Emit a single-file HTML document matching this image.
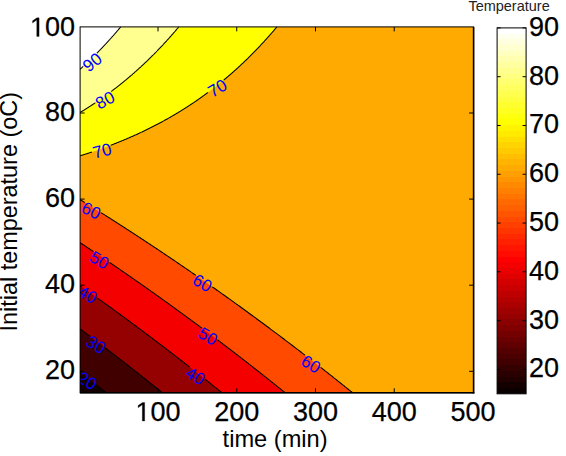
<!DOCTYPE html>
<html><head><meta charset="utf-8"><style>
html,body{margin:0;padding:0;background:#fff;}
svg{display:block;font-family:"Liberation Sans",sans-serif;}
.tk{stroke:#000;stroke-width:0.25;}
.hid{fill-opacity:0;stroke-opacity:0;}
</style></head><body>
<svg width="566" height="456" viewBox="0 0 566 456">
<rect x="80.09" y="26.90" width="392.86" height="365.92" fill="#ffaa00"/>
<polygon points="80.09,26.90 80.09,155.81 82.55,155.04 85.01,154.26 87.47,153.47 89.93,152.66 92.39,151.84 94.84,151.00 97.30,150.15 99.76,149.29 102.22,148.41 104.68,147.52 107.14,146.61 109.60,145.69 112.06,144.75 114.52,143.79 116.98,142.82 119.44,141.83 121.90,140.83 124.36,139.81 126.82,138.77 129.28,137.71 131.74,136.63 134.20,135.54 136.66,134.43 139.12,133.30 141.58,132.14 144.04,130.97 146.50,129.78 148.95,128.57 151.41,127.34 153.87,126.09 156.33,124.82 158.79,123.52 161.25,122.21 163.71,120.87 166.17,119.50 168.63,118.12 171.09,116.71 173.55,115.28 176.01,113.82 178.47,112.34 180.93,110.83 183.39,109.29 185.85,107.74 188.31,106.15 190.77,104.54 193.23,102.90 195.69,101.23 198.15,99.53 200.61,97.80 203.06,96.05 205.52,94.26 207.98,92.45 210.44,90.60 212.90,88.72 215.36,86.81 217.82,84.87 220.28,82.90 222.74,80.89 225.20,78.84 227.66,76.77 230.12,74.65 232.58,72.50 235.04,70.32 237.50,68.09 239.96,65.83 242.42,63.53 244.88,61.19 247.34,58.81 249.80,56.39 252.26,53.93 254.72,51.43 257.17,48.89 259.63,46.30 262.09,43.66 264.55,40.99 267.01,38.26 269.47,35.49 271.93,32.68 274.39,29.81 276.85,26.90" fill="#ffff00"/>
<polygon points="80.09,26.90 80.09,112.52 81.32,111.77 82.55,111.01 83.79,110.25 85.02,109.48 86.26,108.70 87.49,107.92 88.72,107.13 89.96,106.33 91.19,105.53 92.42,104.72 93.66,103.90 94.89,103.07 96.12,102.24 97.36,101.40 98.59,100.56 99.83,99.70 101.06,98.84 102.29,97.97 103.53,97.10 104.76,96.22 105.99,95.33 107.23,94.43 108.46,93.52 109.69,92.61 110.93,91.69 112.16,90.76 113.40,89.82 114.63,88.88 115.86,87.93 117.10,86.97 118.33,86.00 119.56,85.02 120.80,84.03 122.03,83.04 123.26,82.04 124.50,81.03 125.73,80.01 126.97,78.98 128.20,77.94 129.43,76.90 130.67,75.84 131.90,74.78 133.13,73.71 134.37,72.63 135.60,71.53 136.83,70.43 138.07,69.32 139.30,68.21 140.54,67.08 141.77,65.94 143.00,64.79 144.24,63.63 145.47,62.47 146.70,61.29 147.94,60.10 149.17,58.90 150.40,57.70 151.64,56.48 152.87,55.25 154.11,54.01 155.34,52.76 156.57,51.50 157.81,50.23 159.04,48.95 160.27,47.66 161.51,46.35 162.74,45.04 163.98,43.71 165.21,42.38 166.44,41.03 167.68,39.67 168.91,38.30 170.14,36.92 171.38,35.52 172.61,34.11 173.84,32.70 175.08,31.27 176.31,29.82 177.55,28.37 178.78,26.90" fill="#ffff8f"/>
<polygon points="80.09,26.90 80.09,69.24 80.60,68.78 81.10,68.32 81.61,67.86 82.12,67.39 82.63,66.93 83.13,66.46 83.64,65.99 84.15,65.52 84.66,65.05 85.16,64.57 85.67,64.09 86.18,63.62 86.69,63.14 87.20,62.66 87.70,62.17 88.21,61.69 88.72,61.20 89.23,60.72 89.73,60.23 90.24,59.74 90.75,59.24 91.26,58.75 91.76,58.25 92.27,57.75 92.78,57.25 93.29,56.75 93.80,56.25 94.30,55.74 94.81,55.24 95.32,54.73 95.83,54.22 96.33,53.71 96.84,53.19 97.35,52.68 97.86,52.16 98.36,51.64 98.87,51.12 99.38,50.60 99.89,50.07 100.40,49.54 100.90,49.02 101.41,48.49 101.92,47.95 102.43,47.42 102.93,46.88 103.44,46.35 103.95,45.81 104.46,45.26 104.97,44.72 105.47,44.18 105.98,43.63 106.49,43.08 107.00,42.53 107.50,41.98 108.01,41.42 108.52,40.86 109.03,40.30 109.53,39.74 110.04,39.18 110.55,38.62 111.06,38.05 111.57,37.48 112.07,36.91 112.58,36.34 113.09,35.76 113.60,35.19 114.10,34.61 114.61,34.03 115.12,33.45 115.63,32.86 116.13,32.27 116.64,31.68 117.15,31.09 117.66,30.50 118.17,29.91 118.67,29.31 119.18,28.71 119.69,28.11 120.20,27.51 120.70,26.90" fill="#ffffff"/>
<polygon points="80.09,199.59 83.49,201.69 86.90,203.81 90.31,205.93 93.72,208.06 97.12,210.20 100.53,212.35 103.94,214.50 107.35,216.66 110.75,218.82 114.16,221.00 117.57,223.18 120.98,225.36 124.38,227.56 127.79,229.76 131.20,231.97 134.61,234.19 138.01,236.42 141.42,238.65 144.83,240.89 148.23,243.14 151.64,245.39 155.05,247.66 158.46,249.93 161.86,252.20 165.27,254.49 168.68,256.78 172.09,259.08 175.49,261.39 178.90,263.71 182.31,266.04 185.72,268.37 189.12,270.71 192.53,273.06 195.94,275.41 199.35,277.78 202.75,280.15 206.16,282.53 209.57,284.92 212.98,287.31 216.38,289.72 219.79,292.13 223.20,294.55 226.60,296.98 230.01,299.42 233.42,301.86 236.83,304.31 240.23,306.77 243.64,309.24 247.05,311.72 250.46,314.21 253.86,316.70 257.27,319.21 260.68,321.72 264.09,324.24 267.49,326.77 270.90,329.30 274.31,331.85 277.72,334.40 281.12,336.97 284.53,339.54 287.94,342.12 291.34,344.71 294.75,347.30 298.16,349.91 301.57,352.53 304.97,355.15 308.38,357.78 311.79,360.42 315.20,363.07 318.60,365.73 322.01,368.40 325.42,371.08 328.83,373.77 332.23,376.46 335.64,379.17 339.05,381.88 342.46,384.60 345.86,387.33 349.27,390.07 352.68,392.82 80.09,392.82" fill="#ff4a00"/>
<polygon points="80.09,242.67 82.65,244.37 85.22,246.06 87.78,247.77 90.34,249.48 92.91,251.19 95.47,252.91 98.04,254.63 100.60,256.35 103.17,258.08 105.73,259.82 108.30,261.56 110.86,263.30 113.42,265.05 115.99,266.80 118.55,268.56 121.12,270.32 123.68,272.08 126.25,273.85 128.81,275.63 131.37,277.41 133.94,279.19 136.50,280.98 139.07,282.77 141.63,284.57 144.20,286.37 146.76,288.18 149.33,289.99 151.89,291.80 154.45,293.62 157.02,295.45 159.58,297.28 162.15,299.11 164.71,300.95 167.28,302.79 169.84,304.64 172.40,306.49 174.97,308.35 177.53,310.21 180.10,312.08 182.66,313.95 185.23,315.83 187.79,317.71 190.36,319.59 192.92,321.48 195.48,323.38 198.05,325.28 200.61,327.18 203.18,329.09 205.74,331.01 208.31,332.93 210.87,334.85 213.43,336.78 216.00,338.71 218.56,340.65 221.13,342.60 223.69,344.55 226.26,346.50 228.82,348.46 231.39,350.42 233.95,352.39 236.51,354.36 239.08,356.34 241.64,358.33 244.21,360.31 246.77,362.31 249.34,364.31 251.90,366.31 254.46,368.32 257.03,370.33 259.59,372.35 262.16,374.38 264.72,376.40 267.29,378.44 269.85,380.48 272.42,382.52 274.98,384.57 277.54,386.63 280.11,388.69 282.67,390.75 285.24,392.82 80.09,392.82" fill="#f40000"/>
<polygon points="80.09,285.75 81.86,287.00 83.64,288.25 85.41,289.50 87.18,290.76 88.96,292.01 90.73,293.27 92.51,294.53 94.28,295.80 96.05,297.06 97.83,298.33 99.60,299.60 101.38,300.87 103.15,302.15 104.92,303.42 106.70,304.70 108.47,305.98 110.25,307.27 112.02,308.55 113.79,309.84 115.57,311.13 117.34,312.42 119.12,313.72 120.89,315.02 122.66,316.32 124.44,317.62 126.21,318.92 127.99,320.23 129.76,321.53 131.53,322.85 133.31,324.16 135.08,325.47 136.86,326.79 138.63,328.11 140.40,329.43 142.18,330.76 143.95,332.08 145.73,333.41 147.50,334.75 149.27,336.08 151.05,337.42 152.82,338.75 154.60,340.09 156.37,341.44 158.14,342.78 159.92,344.13 161.69,345.48 163.46,346.83 165.24,348.19 167.01,349.55 168.79,350.91 170.56,352.27 172.33,353.63 174.11,355.00 175.88,356.37 177.66,357.74 179.43,359.11 181.20,360.49 182.98,361.87 184.75,363.25 186.53,364.64 188.30,366.02 190.07,367.41 191.85,368.80 193.62,370.19 195.40,371.59 197.17,372.99 198.94,374.39 200.72,375.79 202.49,377.20 204.27,378.61 206.04,380.02 207.81,381.43 209.59,382.85 211.36,384.26 213.14,385.68 214.91,387.11 216.68,388.53 218.46,389.96 220.23,391.39 222.01,392.82 80.09,392.82" fill="#950000"/>
<polygon points="80.09,328.84 81.12,329.60 82.15,330.37 83.18,331.14 84.21,331.91 85.24,332.69 86.27,333.46 87.30,334.23 88.33,335.00 89.36,335.78 90.39,336.55 91.42,337.33 92.45,338.11 93.48,338.88 94.51,339.66 95.54,340.44 96.57,341.22 97.60,342.00 98.63,342.78 99.66,343.57 100.69,344.35 101.72,345.13 102.75,345.92 103.78,346.70 104.81,347.49 105.84,348.28 106.87,349.06 107.90,349.85 108.93,350.64 109.96,351.43 110.99,352.22 112.02,353.02 113.05,353.81 114.08,354.60 115.11,355.40 116.14,356.19 117.17,356.99 118.20,357.79 119.23,358.58 120.26,359.38 121.29,360.18 122.32,360.98 123.35,361.78 124.38,362.58 125.41,363.39 126.44,364.19 127.47,364.99 128.50,365.80 129.53,366.60 130.56,367.41 131.59,368.22 132.62,369.03 133.65,369.83 134.68,370.64 135.71,371.46 136.74,372.27 137.77,373.08 138.80,373.89 139.83,374.71 140.86,375.52 141.89,376.34 142.92,377.15 143.95,377.97 144.98,378.79 146.01,379.61 147.04,380.43 148.07,381.25 149.10,382.07 150.13,382.89 151.16,383.72 152.19,384.54 153.22,385.36 154.25,386.19 155.28,387.02 156.31,387.84 157.34,388.67 158.37,389.50 159.40,390.33 160.43,391.16 161.46,391.99 162.49,392.82 80.09,392.82" fill="#400000"/>
<polygon points="80.09,371.92 80.41,372.18 80.74,372.44 81.07,372.69 81.40,372.95 81.72,373.21 82.05,373.47 82.38,373.73 82.71,373.99 83.03,374.24 83.36,374.50 83.69,374.76 84.02,375.02 84.34,375.28 84.67,375.54 85.00,375.80 85.33,376.06 85.65,376.32 85.98,376.58 86.31,376.84 86.64,377.10 86.96,377.36 87.29,377.62 87.62,377.87 87.94,378.13 88.27,378.39 88.60,378.65 88.93,378.92 89.25,379.18 89.58,379.44 89.91,379.70 90.24,379.96 90.56,380.22 90.89,380.48 91.22,380.74 91.55,381.00 91.87,381.26 92.20,381.52 92.53,381.78 92.86,382.04 93.18,382.30 93.51,382.57 93.84,382.83 94.17,383.09 94.49,383.35 94.82,383.61 95.15,383.87 95.47,384.14 95.80,384.40 96.13,384.66 96.46,384.92 96.78,385.18 97.11,385.45 97.44,385.71 97.77,385.97 98.09,386.23 98.42,386.50 98.75,386.76 99.08,387.02 99.40,387.29 99.73,387.55 100.06,387.81 100.39,388.07 100.71,388.34 101.04,388.60 101.37,388.86 101.70,389.13 102.02,389.39 102.35,389.65 102.68,389.92 103.00,390.18 103.33,390.45 103.66,390.71 103.99,390.97 104.31,391.24 104.64,391.50 104.97,391.77 105.30,392.03 105.62,392.30 105.95,392.56 106.28,392.82 80.09,392.82" fill="#150000"/>
<polyline points="80.09,155.81 80.58,155.65 81.07,155.50 81.56,155.35 82.05,155.19 82.55,155.04 83.04,154.89 83.53,154.73 84.02,154.57 84.51,154.42 85.01,154.26 85.50,154.10 85.99,153.94 86.48,153.79 86.97,153.63 87.47,153.47 87.96,153.31 88.45,153.15 88.94,152.98 89.43,152.82 89.93,152.66 90.42,152.50 90.91,152.33 91.40,152.17 91.89,152.00" fill="none" stroke="#000" stroke-width="1.05"/><polyline points="110.59,145.31 111.08,145.13 111.57,144.94 112.06,144.75 112.55,144.56 113.05,144.37 113.54,144.18 114.03,143.99 114.52,143.79 115.01,143.60 115.50,143.41 116.00,143.21 116.49,143.02 116.98,142.82 117.47,142.63 117.96,142.43 118.46,142.23 118.95,142.03 119.44,141.83 119.93,141.63 120.42,141.43 120.92,141.23 121.41,141.03 121.90,140.83 122.39,140.62 122.88,140.42 123.38,140.22 123.87,140.01 124.36,139.81 124.85,139.60 125.34,139.39 125.83,139.18 126.33,138.98 126.82,138.77 127.31,138.56 127.80,138.35 128.29,138.13 128.79,137.92 129.28,137.71 129.77,137.49 130.26,137.28 130.75,137.07 131.25,136.85 131.74,136.63 132.23,136.42 132.72,136.20 133.21,135.98 133.71,135.76 134.20,135.54 134.69,135.32 135.18,135.10 135.67,134.87 136.17,134.65 136.66,134.43 137.15,134.20 137.64,133.98 138.13,133.75 138.62,133.52 139.12,133.30 139.61,133.07 140.10,132.84 140.59,132.61 141.08,132.38 141.58,132.14 142.07,131.91 142.56,131.68 143.05,131.45 143.54,131.21 144.04,130.97 144.53,130.74 145.02,130.50 145.51,130.26 146.00,130.02 146.50,129.78 146.99,129.54 147.48,129.30 147.97,129.06 148.46,128.82 148.95,128.57 149.45,128.33 149.94,128.08 150.43,127.84 150.92,127.59 151.41,127.34 151.91,127.09 152.40,126.84 152.89,126.59 153.38,126.34 153.87,126.09 154.37,125.84 154.86,125.58 155.35,125.33 155.84,125.07 156.33,124.82 156.83,124.56 157.32,124.30 157.81,124.04 158.30,123.78 158.79,123.52 159.28,123.26 159.78,123.00 160.27,122.74 160.76,122.47 161.25,122.21 161.74,121.94 162.24,121.67 162.73,121.40 163.22,121.14 163.71,120.87 164.20,120.60 164.70,120.32 165.19,120.05 165.68,119.78 166.17,119.50 166.66,119.23 167.16,118.95 167.65,118.68 168.14,118.40 168.63,118.12 169.12,117.84 169.61,117.56 170.11,117.28 170.60,116.99 171.09,116.71 171.58,116.42 172.07,116.14 172.57,115.85 173.06,115.56 173.55,115.28 174.04,114.99 174.53,114.70 175.03,114.40 175.52,114.11 176.01,113.82 176.50,113.52 176.99,113.23 177.49,112.93 177.98,112.63 178.47,112.34 178.96,112.04 179.45,111.74 179.95,111.43 180.44,111.13 180.93,110.83 181.42,110.52 181.91,110.22 182.40,109.91 182.90,109.60 183.39,109.29 183.88,108.99 184.37,108.67 184.86,108.36 185.36,108.05 185.85,107.74 186.34,107.42 186.83,107.10 187.32,106.79 187.82,106.47 188.31,106.15 188.80,105.83 189.29,105.51 189.78,105.18 190.28,104.86 190.77,104.54 191.26,104.21 191.75,103.88 192.24,103.56 192.73,103.23 193.23,102.90 193.72,102.56 194.21,102.23 194.70,101.90 195.19,101.56 195.69,101.23 196.18,100.89 196.67,100.55 197.16,100.21 197.65,99.87 198.15,99.53 198.64,99.19 199.13,98.84 199.62,98.50 200.11,98.15 200.61,97.80 201.10,97.46 201.59,97.11 202.08,96.76 202.57,96.40 203.06,96.05 203.56,95.69 204.05,95.34 204.54,94.98 205.03,94.62 205.52,94.26 206.02,93.90 206.51,93.54 207.00,93.18 207.49,92.81 207.98,92.45" fill="none" stroke="#000" stroke-width="1.05"/><polyline points="223.73,80.07 224.22,79.67 224.71,79.26 225.20,78.84 225.69,78.43 226.18,78.02 226.68,77.60 227.17,77.18 227.66,76.77 228.15,76.35 228.64,75.92 229.14,75.50 229.63,75.08 230.12,74.65 230.61,74.23 231.10,73.80 231.60,73.37 232.09,72.94 232.58,72.50 233.07,72.07 233.56,71.63 234.06,71.20 234.55,70.76 235.04,70.32 235.53,69.87 236.02,69.43 236.51,68.99 237.01,68.54 237.50,68.09 237.99,67.64 238.48,67.19 238.97,66.74 239.47,66.29 239.96,65.83 240.45,65.37 240.94,64.92 241.43,64.46 241.93,63.99 242.42,63.53 242.91,63.07 243.40,62.60 243.89,62.13 244.39,61.66 244.88,61.19 245.37,60.72 245.86,60.25 246.35,59.77 246.84,59.29 247.34,58.81 247.83,58.33 248.32,57.85 248.81,57.37 249.30,56.88 249.80,56.39 250.29,55.91 250.78,55.42 251.27,54.92 251.76,54.43 252.26,53.93 252.75,53.44 253.24,52.94 253.73,52.44 254.22,51.94 254.72,51.43 255.21,50.93 255.70,50.42 256.19,49.91 256.68,49.40 257.17,48.89 257.67,48.37 258.16,47.86 258.65,47.34 259.14,46.82 259.63,46.30 260.13,45.77 260.62,45.25 261.11,44.72 261.60,44.19 262.09,43.66 262.59,43.13 263.08,42.60 263.57,42.06 264.06,41.53 264.55,40.99 265.05,40.45 265.54,39.90 266.03,39.36 266.52,38.81 267.01,38.26 267.51,37.71 268.00,37.16 268.49,36.61 268.98,36.05 269.47,35.49 269.96,34.94 270.46,34.37 270.95,33.81 271.44,33.25 271.93,32.68 272.42,32.11 272.92,31.54 273.41,30.97 273.90,30.39 274.39,29.81 274.88,29.23 275.38,28.65 275.87,28.07 276.36,27.49 276.85,26.90" fill="none" stroke="#000" stroke-width="1.05"/>
<polyline points="80.09,112.52 80.33,112.37 80.58,112.22 80.83,112.07 81.07,111.92 81.32,111.77 81.57,111.62 81.81,111.47 82.06,111.32 82.31,111.17 82.55,111.01 82.80,110.86 83.05,110.71 83.29,110.56 83.54,110.40 83.79,110.25 84.03,110.10 84.28,109.94 84.53,109.79 84.78,109.63 85.02,109.48 85.27,109.32 85.52,109.17 85.76,109.01 86.01,108.86 86.26,108.70 86.50,108.55 86.75,108.39 87.00,108.23 87.24,108.08 87.49,107.92 87.74,107.76 87.98,107.60 88.23,107.44 88.48,107.29 88.72,107.13 88.97,106.97 89.22,106.81 89.46,106.65 89.71,106.49 89.96,106.33 90.20,106.17 90.45,106.01 90.70,105.85 90.94,105.69 91.19,105.53 91.44,105.36 91.68,105.20 91.93,105.04 92.18,104.88 92.42,104.72 92.67,104.55 92.92,104.39 93.16,104.23 93.41,104.06 93.66,103.90 93.90,103.73 94.15,103.57 94.40,103.40 94.64,103.24 94.89,103.07 95.14,102.91 95.38,102.74" fill="none" stroke="#000" stroke-width="1.05"/><polyline points="111.18,91.50 111.42,91.32 111.67,91.13 111.92,90.95 112.16,90.76 112.41,90.57 112.66,90.39 112.90,90.20 113.15,90.01 113.40,89.82 113.64,89.64 113.89,89.45 114.14,89.26 114.38,89.07 114.63,88.88 114.88,88.69 115.12,88.50 115.37,88.31 115.62,88.12 115.86,87.93 116.11,87.74 116.36,87.54 116.60,87.35 116.85,87.16 117.10,86.97 117.34,86.77 117.59,86.58 117.84,86.39 118.08,86.19 118.33,86.00 118.58,85.80 118.82,85.61 119.07,85.41 119.32,85.22 119.56,85.02 119.81,84.82 120.06,84.63 120.30,84.43 120.55,84.23 120.80,84.03 121.04,83.84 121.29,83.64 121.54,83.44 121.78,83.24 122.03,83.04 122.28,82.84 122.52,82.64 122.77,82.44 123.02,82.24 123.26,82.04 123.51,81.84 123.76,81.64 124.00,81.43 124.25,81.23 124.50,81.03 124.75,80.82 124.99,80.62 125.24,80.42 125.49,80.21 125.73,80.01 125.98,79.80 126.23,79.60 126.47,79.39 126.72,79.19 126.97,78.98 127.21,78.77 127.46,78.57 127.71,78.36 127.95,78.15 128.20,77.94 128.45,77.73 128.69,77.53 128.94,77.32 129.19,77.11 129.43,76.90 129.68,76.69 129.93,76.48 130.17,76.27 130.42,76.05 130.67,75.84 130.91,75.63 131.16,75.42 131.41,75.21 131.65,74.99 131.90,74.78 132.15,74.57 132.39,74.35 132.64,74.14 132.89,73.92 133.13,73.71 133.38,73.49 133.63,73.28 133.87,73.06 134.12,72.84 134.37,72.63 134.61,72.41 134.86,72.19 135.11,71.97 135.35,71.75 135.60,71.53 135.85,71.32 136.09,71.10 136.34,70.88 136.59,70.66 136.83,70.43 137.08,70.21 137.33,69.99 137.58,69.77 137.82,69.55 138.07,69.32 138.32,69.10 138.56,68.88 138.81,68.65 139.06,68.43 139.30,68.21 139.55,67.98 139.80,67.76 140.04,67.53 140.29,67.30 140.54,67.08 140.78,66.85 141.03,66.62 141.28,66.40 141.52,66.17 141.77,65.94 142.02,65.71 142.26,65.48 142.51,65.25 142.76,65.02 143.00,64.79 143.25,64.56 143.50,64.33 143.74,64.10 143.99,63.87 144.24,63.63 144.48,63.40 144.73,63.17 144.98,62.93 145.22,62.70 145.47,62.47 145.72,62.23 145.96,62.00 146.21,61.76 146.46,61.53 146.70,61.29 146.95,61.05 147.20,60.82 147.44,60.58 147.69,60.34 147.94,60.10 148.18,59.86 148.43,59.62 148.68,59.38 148.92,59.14 149.17,58.90 149.42,58.66 149.66,58.42 149.91,58.18 150.16,57.94 150.40,57.70 150.65,57.45 150.90,57.21 151.15,56.97 151.39,56.72 151.64,56.48 151.89,56.23 152.13,55.99 152.38,55.74 152.63,55.50 152.87,55.25 153.12,55.00 153.37,54.76 153.61,54.51 153.86,54.26 154.11,54.01 154.35,53.76 154.60,53.51 154.85,53.26 155.09,53.01 155.34,52.76 155.59,52.51 155.83,52.26 156.08,52.01 156.33,51.76 156.57,51.50 156.82,51.25 157.07,51.00 157.31,50.74 157.56,50.49 157.81,50.23 158.05,49.98 158.30,49.72 158.55,49.46 158.79,49.21 159.04,48.95 159.29,48.69 159.53,48.43 159.78,48.18 160.03,47.92 160.27,47.66 160.52,47.40 160.77,47.14 161.01,46.88 161.26,46.62 161.51,46.35 161.75,46.09 162.00,45.83 162.25,45.57 162.49,45.30 162.74,45.04 162.99,44.78 163.23,44.51 163.48,44.25 163.73,43.98 163.98,43.71 164.22,43.45 164.47,43.18 164.72,42.91 164.96,42.65 165.21,42.38 165.46,42.11 165.70,41.84 165.95,41.57 166.20,41.30 166.44,41.03 166.69,40.76 166.94,40.49 167.18,40.22 167.43,39.94 167.68,39.67 167.92,39.40 168.17,39.12 168.42,38.85 168.66,38.57 168.91,38.30 169.16,38.02 169.40,37.75 169.65,37.47 169.90,37.19 170.14,36.92 170.39,36.64 170.64,36.36 170.88,36.08 171.13,35.80 171.38,35.52 171.62,35.24 171.87,34.96 172.12,34.68 172.36,34.40 172.61,34.11 172.86,33.83 173.10,33.55 173.35,33.26 173.60,32.98 173.84,32.70 174.09,32.41 174.34,32.13 174.58,31.84 174.83,31.55 175.08,31.27 175.32,30.98 175.57,30.69 175.82,30.40 176.06,30.11 176.31,29.82 176.56,29.53 176.80,29.24 177.05,28.95 177.30,28.66 177.55,28.37 177.79,28.07 178.04,27.78 178.29,27.49 178.53,27.19 178.78,26.90" fill="none" stroke="#000" stroke-width="1.05"/>
<polyline points="80.09,69.24 80.19,69.15 80.29,69.06 80.39,68.96 80.49,68.87 80.60,68.78 80.70,68.69 80.80,68.60 80.90,68.50 81.00,68.41 81.10,68.32 81.20,68.23 81.31,68.13 81.41,68.04 81.51,67.95 81.61,67.86 81.71,67.76 81.81,67.67 81.92,67.58 82.02,67.49 82.12,67.39 82.22,67.30 82.32,67.21 82.42,67.11 82.52,67.02 82.63,66.93 82.73,66.83 82.83,66.74 82.93,66.65 83.03,66.55 83.13,66.46" fill="none" stroke="#000" stroke-width="1.05"/><polyline points="96.84,53.19 96.94,53.09 97.04,52.99 97.15,52.88 97.25,52.78 97.35,52.68 97.45,52.57 97.55,52.47 97.65,52.37 97.76,52.26 97.86,52.16 97.96,52.06 98.06,51.95 98.16,51.85 98.26,51.74 98.36,51.64 98.47,51.54 98.57,51.43 98.67,51.33 98.77,51.22 98.87,51.12 98.97,51.01 99.08,50.91 99.18,50.80 99.28,50.70 99.38,50.60 99.48,50.49 99.58,50.39 99.68,50.28 99.79,50.18 99.89,50.07 99.99,49.97 100.09,49.86 100.19,49.76 100.29,49.65 100.40,49.54 100.50,49.44 100.60,49.33 100.70,49.23 100.80,49.12 100.90,49.02 101.00,48.91 101.11,48.80 101.21,48.70 101.31,48.59 101.41,48.49 101.51,48.38 101.61,48.27 101.72,48.17 101.82,48.06 101.92,47.95 102.02,47.85 102.12,47.74 102.22,47.63 102.33,47.53 102.43,47.42 102.53,47.31 102.63,47.21 102.73,47.10 102.83,46.99 102.93,46.88 103.04,46.78 103.14,46.67 103.24,46.56 103.34,46.45 103.44,46.35 103.54,46.24 103.65,46.13 103.75,46.02 103.85,45.91 103.95,45.81 104.05,45.70 104.15,45.59 104.25,45.48 104.36,45.37 104.46,45.26 104.56,45.16 104.66,45.05 104.76,44.94 104.86,44.83 104.97,44.72 105.07,44.61 105.17,44.50 105.27,44.39 105.37,44.28 105.47,44.18 105.57,44.07 105.68,43.96 105.78,43.85 105.88,43.74 105.98,43.63 106.08,43.52 106.18,43.41 106.29,43.30 106.39,43.19 106.49,43.08 106.59,42.97 106.69,42.86 106.79,42.75 106.89,42.64 107.00,42.53 107.10,42.42 107.20,42.31 107.30,42.20 107.40,42.09 107.50,41.98 107.61,41.86 107.71,41.75 107.81,41.64 107.91,41.53 108.01,41.42 108.11,41.31 108.21,41.20 108.32,41.09 108.42,40.98 108.52,40.86 108.62,40.75 108.72,40.64 108.82,40.53 108.93,40.42 109.03,40.30 109.13,40.19 109.23,40.08 109.33,39.97 109.43,39.86 109.53,39.74 109.64,39.63 109.74,39.52 109.84,39.41 109.94,39.29 110.04,39.18 110.14,39.07 110.25,38.96 110.35,38.84 110.45,38.73 110.55,38.62 110.65,38.50 110.75,38.39 110.85,38.28 110.96,38.16 111.06,38.05 111.16,37.94 111.26,37.82 111.36,37.71 111.46,37.60 111.57,37.48 111.67,37.37 111.77,37.25 111.87,37.14 111.97,37.03 112.07,36.91 112.17,36.80 112.28,36.68 112.38,36.57 112.48,36.45 112.58,36.34 112.68,36.22 112.78,36.11 112.89,35.99 112.99,35.88 113.09,35.76 113.19,35.65 113.29,35.53 113.39,35.42 113.49,35.30 113.60,35.19 113.70,35.07 113.80,34.96 113.90,34.84 114.00,34.72 114.10,34.61 114.21,34.49 114.31,34.38 114.41,34.26 114.51,34.14 114.61,34.03 114.71,33.91 114.81,33.80 114.92,33.68 115.02,33.56 115.12,33.45 115.22,33.33 115.32,33.21 115.42,33.09 115.53,32.98 115.63,32.86 115.73,32.74 115.83,32.63 115.93,32.51 116.03,32.39 116.13,32.27 116.24,32.16 116.34,32.04 116.44,31.92 116.54,31.80 116.64,31.68 116.74,31.57 116.85,31.45 116.95,31.33 117.05,31.21 117.15,31.09 117.25,30.98 117.35,30.86 117.45,30.74 117.56,30.62 117.66,30.50 117.76,30.38 117.86,30.26 117.96,30.14 118.06,30.03 118.17,29.91 118.27,29.79 118.37,29.67 118.47,29.55 118.57,29.43 118.67,29.31 118.77,29.19 118.88,29.07 118.98,28.95 119.08,28.83 119.18,28.71 119.28,28.59 119.38,28.47 119.49,28.35 119.59,28.23 119.69,28.11 119.79,27.99 119.89,27.87 119.99,27.75 120.09,27.63 120.20,27.51 120.30,27.38 120.40,27.26 120.50,27.14 120.60,27.02 120.70,26.90" fill="none" stroke="#000" stroke-width="1.05"/>
<polyline points="80.09,371.92 80.15,371.97 80.22,372.02 80.28,372.07 80.35,372.13 80.41,372.18 80.48,372.23 80.55,372.28 80.61,372.33 80.68,372.38 80.74,372.44 80.81,372.49 80.87,372.54 80.94,372.59 81.00,372.64 81.07,372.69 81.13,372.75 81.20,372.80 81.27,372.85 81.33,372.90" fill="none" stroke="#000" stroke-width="1.05"/><polyline points="96.26,384.76 96.33,384.82 96.39,384.87 96.46,384.92 96.52,384.97 96.59,385.03 96.65,385.08 96.72,385.13 96.78,385.18 96.85,385.24 96.92,385.29 96.98,385.34 97.05,385.39 97.11,385.45 97.18,385.50 97.24,385.55 97.31,385.60 97.37,385.66 97.44,385.71 97.50,385.76 97.57,385.81 97.64,385.87 97.70,385.92 97.77,385.97 97.83,386.02 97.90,386.08 97.96,386.13 98.03,386.18 98.09,386.23 98.16,386.29 98.22,386.34 98.29,386.39 98.36,386.44 98.42,386.50 98.49,386.55 98.55,386.60 98.62,386.65 98.68,386.71 98.75,386.76 98.81,386.81 98.88,386.86 98.95,386.92 99.01,386.97 99.08,387.02 99.14,387.07 99.21,387.13 99.27,387.18 99.34,387.23 99.40,387.29 99.47,387.34 99.53,387.39 99.60,387.44 99.67,387.50 99.73,387.55 99.80,387.60 99.86,387.65 99.93,387.71 99.99,387.76 100.06,387.81 100.12,387.86 100.19,387.92 100.25,387.97 100.32,388.02 100.39,388.07 100.45,388.13 100.52,388.18 100.58,388.23 100.65,388.28 100.71,388.34 100.78,388.39 100.84,388.44 100.91,388.50 100.97,388.55 101.04,388.60 101.11,388.65 101.17,388.71 101.24,388.76 101.30,388.81 101.37,388.86 101.43,388.92 101.50,388.97 101.56,389.02 101.63,389.07 101.70,389.13 101.76,389.18 101.83,389.23 101.89,389.29 101.96,389.34 102.02,389.39 102.09,389.44 102.15,389.50 102.22,389.55 102.28,389.60 102.35,389.65 102.42,389.71 102.48,389.76 102.55,389.81 102.61,389.87 102.68,389.92 102.74,389.97 102.81,390.02 102.87,390.08 102.94,390.13 103.00,390.18 103.07,390.24 103.14,390.29 103.20,390.34 103.27,390.39 103.33,390.45 103.40,390.50 103.46,390.55 103.53,390.60 103.59,390.66 103.66,390.71 103.72,390.76 103.79,390.82 103.86,390.87 103.92,390.92 103.99,390.97 104.05,391.03 104.12,391.08 104.18,391.13 104.25,391.19 104.31,391.24 104.38,391.29 104.45,391.34 104.51,391.40 104.58,391.45 104.64,391.50 104.71,391.56 104.77,391.61 104.84,391.66 104.90,391.71 104.97,391.77 105.03,391.82 105.10,391.87 105.17,391.93 105.23,391.98 105.30,392.03 105.36,392.08 105.43,392.14 105.49,392.19 105.56,392.24 105.62,392.30 105.69,392.35 105.75,392.40 105.82,392.45 105.89,392.51 105.95,392.56 106.02,392.61 106.08,392.67 106.15,392.72 106.21,392.77 106.28,392.82" fill="none" stroke="#000" stroke-width="1.05"/>
<polyline points="80.09,328.84 80.29,328.99 80.50,329.14 80.71,329.30 80.91,329.45 81.12,329.60 81.32,329.76 81.53,329.91 81.74,330.07 81.94,330.22 82.15,330.37 82.35,330.53 82.56,330.68 82.77,330.84 82.97,330.99 83.18,331.14 83.38,331.30 83.59,331.45 83.80,331.61 84.00,331.76 84.21,331.91 84.41,332.07 84.62,332.22 84.83,332.38 85.03,332.53 85.24,332.69 85.44,332.84 85.65,332.99 85.86,333.15 86.06,333.30 86.27,333.46 86.47,333.61 86.68,333.77 86.89,333.92 87.09,334.08 87.30,334.23 87.50,334.38 87.71,334.54 87.92,334.69 88.12,334.85 88.33,335.00 88.53,335.16 88.74,335.31 88.95,335.47 89.15,335.62 89.36,335.78 89.56,335.93 89.77,336.09 89.98,336.24 90.18,336.40" fill="none" stroke="#000" stroke-width="1.05"/><polyline points="105.43,347.96 105.63,348.12 105.84,348.28 106.04,348.43 106.25,348.59 106.46,348.75 106.66,348.91 106.87,349.06 107.07,349.22 107.28,349.38 107.49,349.54 107.69,349.70 107.90,349.85 108.10,350.01 108.31,350.17 108.52,350.33 108.72,350.49 108.93,350.64 109.13,350.80 109.34,350.96 109.55,351.12 109.75,351.28 109.96,351.43 110.16,351.59 110.37,351.75 110.58,351.91 110.78,352.07 110.99,352.22 111.19,352.38 111.40,352.54 111.61,352.70 111.81,352.86 112.02,353.02 112.22,353.17 112.43,353.33 112.64,353.49 112.84,353.65 113.05,353.81 113.25,353.97 113.46,354.13 113.67,354.29 113.87,354.44 114.08,354.60 114.28,354.76 114.49,354.92 114.70,355.08 114.90,355.24 115.11,355.40 115.32,355.56 115.52,355.72 115.73,355.87 115.93,356.03 116.14,356.19 116.35,356.35 116.55,356.51 116.76,356.67 116.96,356.83 117.17,356.99 117.38,357.15 117.58,357.31 117.79,357.47 117.99,357.63 118.20,357.79 118.41,357.94 118.61,358.10 118.82,358.26 119.02,358.42 119.23,358.58 119.44,358.74 119.64,358.90 119.85,359.06 120.05,359.22 120.26,359.38 120.47,359.54 120.67,359.70 120.88,359.86 121.08,360.02 121.29,360.18 121.50,360.34 121.70,360.50 121.91,360.66 122.11,360.82 122.32,360.98 122.53,361.14 122.73,361.30 122.94,361.46 123.14,361.62 123.35,361.78 123.56,361.94 123.76,362.10 123.97,362.26 124.17,362.42 124.38,362.58 124.59,362.74 124.79,362.90 125.00,363.06 125.20,363.22 125.41,363.39 125.62,363.55 125.82,363.71 126.03,363.87 126.23,364.03 126.44,364.19 126.65,364.35 126.85,364.51 127.06,364.67 127.26,364.83 127.47,364.99 127.68,365.15 127.88,365.31 128.09,365.48 128.29,365.64 128.50,365.80 128.71,365.96 128.91,366.12 129.12,366.28 129.32,366.44 129.53,366.60 129.74,366.76 129.94,366.93 130.15,367.09 130.35,367.25 130.56,367.41 130.77,367.57 130.97,367.73 131.18,367.89 131.38,368.06 131.59,368.22 131.80,368.38 132.00,368.54 132.21,368.70 132.41,368.86 132.62,369.03 132.83,369.19 133.03,369.35 133.24,369.51 133.44,369.67 133.65,369.83 133.86,370.00 134.06,370.16 134.27,370.32 134.47,370.48 134.68,370.64 134.89,370.81 135.09,370.97 135.30,371.13 135.50,371.29 135.71,371.46 135.92,371.62 136.12,371.78 136.33,371.94 136.53,372.10 136.74,372.27 136.95,372.43 137.15,372.59 137.36,372.75 137.56,372.92 137.77,373.08 137.98,373.24 138.18,373.40 138.39,373.57 138.59,373.73 138.80,373.89 139.01,374.06 139.21,374.22 139.42,374.38 139.62,374.54 139.83,374.71 140.04,374.87 140.24,375.03 140.45,375.20 140.65,375.36 140.86,375.52 141.07,375.68 141.27,375.85 141.48,376.01 141.68,376.17 141.89,376.34 142.10,376.50 142.30,376.66 142.51,376.83 142.71,376.99 142.92,377.15 143.13,377.32 143.33,377.48 143.54,377.64 143.74,377.81 143.95,377.97 144.16,378.13 144.36,378.30 144.57,378.46 144.77,378.62 144.98,378.79 145.19,378.95 145.39,379.12 145.60,379.28 145.80,379.44 146.01,379.61 146.22,379.77 146.42,379.94 146.63,380.10 146.83,380.26 147.04,380.43 147.25,380.59 147.45,380.76 147.66,380.92 147.86,381.08 148.07,381.25 148.28,381.41 148.48,381.58 148.69,381.74 148.89,381.91 149.10,382.07 149.31,382.23 149.51,382.40 149.72,382.56 149.92,382.73 150.13,382.89 150.34,383.06 150.54,383.22 150.75,383.39 150.95,383.55 151.16,383.72 151.37,383.88 151.57,384.04 151.78,384.21 151.98,384.37 152.19,384.54 152.40,384.70 152.60,384.87 152.81,385.03 153.01,385.20 153.22,385.36 153.43,385.53 153.63,385.69 153.84,385.86 154.04,386.02 154.25,386.19 154.46,386.35 154.66,386.52 154.87,386.69 155.07,386.85 155.28,387.02 155.49,387.18 155.69,387.35 155.90,387.51 156.11,387.68 156.31,387.84 156.52,388.01 156.72,388.17 156.93,388.34 157.14,388.51 157.34,388.67 157.55,388.84 157.75,389.00 157.96,389.17 158.17,389.33 158.37,389.50 158.58,389.67 158.78,389.83 158.99,390.00 159.20,390.16 159.40,390.33 159.61,390.50 159.81,390.66 160.02,390.83 160.23,390.99 160.43,391.16 160.64,391.33 160.84,391.49 161.05,391.66 161.26,391.83 161.46,391.99 161.67,392.16 161.87,392.33 162.08,392.49 162.29,392.66 162.49,392.82" fill="none" stroke="#000" stroke-width="1.05"/>
<polyline points="80.09,285.75 80.44,286.00 80.80,286.25 81.15,286.50 81.51,286.75" fill="none" stroke="#000" stroke-width="1.05"/><polyline points="97.12,297.82 97.47,298.08 97.83,298.33 98.18,298.59 98.54,298.84 98.89,299.09 99.25,299.35 99.60,299.60 99.96,299.86 100.31,300.11 100.67,300.36 101.02,300.62 101.38,300.87 101.73,301.13 102.08,301.38 102.44,301.64 102.79,301.89 103.15,302.15 103.50,302.40 103.86,302.66 104.21,302.91 104.57,303.17 104.92,303.42 105.28,303.68 105.63,303.94 105.99,304.19 106.34,304.45 106.70,304.70 107.05,304.96 107.41,305.22 107.76,305.47 108.12,305.73 108.47,305.98 108.83,306.24 109.18,306.50 109.54,306.75 109.89,307.01 110.25,307.27 110.60,307.53 110.95,307.78 111.31,308.04 111.66,308.30 112.02,308.55 112.37,308.81 112.73,309.07 113.08,309.33 113.44,309.58 113.79,309.84 114.15,310.10 114.50,310.36 114.86,310.62 115.21,310.87 115.57,311.13 115.92,311.39 116.28,311.65 116.63,311.91 116.99,312.17 117.34,312.42 117.70,312.68 118.05,312.94 118.41,313.20 118.76,313.46 119.12,313.72 119.47,313.98 119.82,314.24 120.18,314.50 120.53,314.76 120.89,315.02 121.24,315.28 121.60,315.54 121.95,315.80 122.31,316.06 122.66,316.32 123.02,316.58 123.37,316.84 123.73,317.10 124.08,317.36 124.44,317.62 124.79,317.88 125.15,318.14 125.50,318.40 125.86,318.66 126.21,318.92 126.57,319.18 126.92,319.44 127.28,319.70 127.63,319.97 127.99,320.23 128.34,320.49 128.69,320.75 129.05,321.01 129.40,321.27 129.76,321.53 130.11,321.80 130.47,322.06 130.82,322.32 131.18,322.58 131.53,322.85 131.89,323.11 132.24,323.37 132.60,323.63 132.95,323.90 133.31,324.16 133.66,324.42 134.02,324.68 134.37,324.95 134.73,325.21 135.08,325.47 135.44,325.74 135.79,326.00 136.15,326.26 136.50,326.53 136.86,326.79 137.21,327.06 137.56,327.32 137.92,327.58 138.27,327.85 138.63,328.11 138.98,328.38 139.34,328.64 139.69,328.90 140.05,329.17 140.40,329.43 140.76,329.70 141.11,329.96 141.47,330.23 141.82,330.49 142.18,330.76 142.53,331.02 142.89,331.29 143.24,331.55 143.60,331.82 143.95,332.08 144.31,332.35 144.66,332.62 145.02,332.88 145.37,333.15 145.73,333.41 146.08,333.68 146.43,333.95 146.79,334.21 147.14,334.48 147.50,334.75 147.85,335.01 148.21,335.28 148.56,335.55 148.92,335.81 149.27,336.08 149.63,336.35 149.98,336.61 150.34,336.88 150.69,337.15 151.05,337.42 151.40,337.68 151.76,337.95 152.11,338.22 152.47,338.49 152.82,338.75 153.18,339.02 153.53,339.29 153.89,339.56 154.24,339.83 154.60,340.09 154.95,340.36 155.30,340.63 155.66,340.90 156.01,341.17 156.37,341.44 156.72,341.71 157.08,341.98 157.43,342.24 157.79,342.51 158.14,342.78 158.50,343.05 158.85,343.32 159.21,343.59 159.56,343.86 159.92,344.13 160.27,344.40 160.63,344.67 160.98,344.94 161.34,345.21 161.69,345.48 162.05,345.75 162.40,346.02 162.76,346.29 163.11,346.56 163.46,346.83 163.82,347.10 164.17,347.38 164.53,347.65 164.88,347.92 165.24,348.19 165.59,348.46 165.95,348.73 166.30,349.00 166.66,349.27 167.01,349.55 167.37,349.82 167.72,350.09 168.08,350.36 168.43,350.63 168.79,350.91 169.14,351.18 169.50,351.45 169.85,351.72 170.21,352.00 170.56,352.27 170.92,352.54 171.27,352.81 171.63,353.09 171.98,353.36 172.33,353.63 172.69,353.91 173.04,354.18 173.40,354.45 173.75,354.73 174.11,355.00 174.46,355.27 174.82,355.55 175.17,355.82 175.53,356.09 175.88,356.37 176.24,356.64 176.59,356.92 176.95,357.19 177.30,357.47 177.66,357.74 178.01,358.02 178.37,358.29 178.72,358.56 179.08,358.84 179.43,359.11 179.79,359.39 180.14,359.66 180.50,359.94 180.85,360.22 181.20,360.49 181.56,360.77 181.91,361.04 182.27,361.32 182.62,361.59 182.98,361.87 183.33,362.15 183.69,362.42 184.04,362.70 184.40,362.97 184.75,363.25 185.11,363.53 185.46,363.80 185.82,364.08 186.17,364.36 186.53,364.64 186.88,364.91 187.24,365.19 187.59,365.47 187.95,365.74 188.30,366.02 188.66,366.30 189.01,366.58 189.37,366.85 189.72,367.13" fill="none" stroke="#000" stroke-width="1.05"/><polyline points="204.98,379.17 205.33,379.45 205.69,379.74 206.04,380.02 206.40,380.30 206.75,380.58 207.11,380.86 207.46,381.15 207.81,381.43 208.17,381.71 208.52,382.00 208.88,382.28 209.23,382.56 209.59,382.85 209.94,383.13 210.30,383.41 210.65,383.70 211.01,383.98 211.36,384.26 211.72,384.55 212.07,384.83 212.43,385.12 212.78,385.40 213.14,385.68 213.49,385.97 213.85,386.25 214.20,386.54 214.56,386.82 214.91,387.11 215.27,387.39 215.62,387.68 215.98,387.96 216.33,388.25 216.68,388.53 217.04,388.82 217.39,389.10 217.75,389.39 218.10,389.68 218.46,389.96 218.81,390.25 219.17,390.53 219.52,390.82 219.88,391.11 220.23,391.39 220.59,391.68 220.94,391.96 221.30,392.25 221.65,392.54 222.01,392.82" fill="none" stroke="#000" stroke-width="1.05"/>
<polyline points="80.09,242.67 80.60,243.01 81.11,243.35 81.63,243.69 82.14,244.03 82.65,244.37 83.16,244.70 83.68,245.04 84.19,245.38 84.70,245.72 85.22,246.06 85.73,246.41 86.24,246.75 86.75,247.09 87.27,247.43 87.78,247.77 88.29,248.11 88.81,248.45 89.32,248.79 89.83,249.14 90.34,249.48 90.86,249.82 91.37,250.16 91.88,250.50 92.40,250.85 92.91,251.19 93.42,251.53" fill="none" stroke="#000" stroke-width="1.05"/><polyline points="109.83,262.60 110.35,262.95 110.86,263.30 111.37,263.65 111.89,264.00 112.40,264.35 112.91,264.70 113.42,265.05 113.94,265.40 114.45,265.75 114.96,266.10 115.48,266.45 115.99,266.80 116.50,267.15 117.01,267.50 117.53,267.85 118.04,268.21 118.55,268.56 119.07,268.91 119.58,269.26 120.09,269.61 120.60,269.97 121.12,270.32 121.63,270.67 122.14,271.02 122.66,271.38 123.17,271.73 123.68,272.08 124.19,272.44 124.71,272.79 125.22,273.15 125.73,273.50 126.25,273.85 126.76,274.21 127.27,274.56 127.78,274.92 128.30,275.27 128.81,275.63 129.32,275.98 129.84,276.34 130.35,276.70 130.86,277.05 131.37,277.41 131.89,277.76 132.40,278.12 132.91,278.48 133.43,278.83 133.94,279.19 134.45,279.55 134.96,279.91 135.48,280.26 135.99,280.62 136.50,280.98 137.02,281.34 137.53,281.70 138.04,282.05 138.56,282.41 139.07,282.77 139.58,283.13 140.09,283.49 140.61,283.85 141.12,284.21 141.63,284.57 142.15,284.93 142.66,285.29 143.17,285.65 143.68,286.01 144.20,286.37 144.71,286.73 145.22,287.09 145.74,287.45 146.25,287.82 146.76,288.18 147.27,288.54 147.79,288.90 148.30,289.26 148.81,289.63 149.33,289.99 149.84,290.35 150.35,290.71 150.86,291.08 151.38,291.44 151.89,291.80 152.40,292.17 152.92,292.53 153.43,292.89 153.94,293.26 154.45,293.62 154.97,293.99 155.48,294.35 155.99,294.72 156.51,295.08 157.02,295.45 157.53,295.81 158.04,296.18 158.56,296.55 159.07,296.91 159.58,297.28 160.10,297.64 160.61,298.01 161.12,298.38 161.63,298.74 162.15,299.11 162.66,299.48 163.17,299.85 163.69,300.21 164.20,300.58 164.71,300.95 165.22,301.32 165.74,301.69 166.25,302.06 166.76,302.42 167.28,302.79 167.79,303.16 168.30,303.53 168.81,303.90 169.33,304.27 169.84,304.64 170.35,305.01 170.87,305.38 171.38,305.75 171.89,306.12 172.40,306.49 172.92,306.86 173.43,307.24 173.94,307.61 174.46,307.98 174.97,308.35 175.48,308.72 175.99,309.09 176.51,309.47 177.02,309.84 177.53,310.21 178.05,310.59 178.56,310.96 179.07,311.33 179.59,311.71 180.10,312.08 180.61,312.45 181.12,312.83 181.64,313.20 182.15,313.58 182.66,313.95 183.18,314.33 183.69,314.70 184.20,315.08 184.71,315.45 185.23,315.83 185.74,316.20 186.25,316.58 186.77,316.95 187.28,317.33 187.79,317.71 188.30,318.08 188.82,318.46 189.33,318.84 189.84,319.22 190.36,319.59 190.87,319.97 191.38,320.35 191.89,320.73 192.41,321.10 192.92,321.48 193.43,321.86 193.95,322.24 194.46,322.62 194.97,323.00 195.48,323.38 196.00,323.76 196.51,324.14 197.02,324.52 197.54,324.90 198.05,325.28 198.56,325.66 199.07,326.04 199.59,326.42 200.10,326.80 200.61,327.18 201.13,327.57 201.64,327.95 202.15,328.33" fill="none" stroke="#000" stroke-width="1.05"/><polyline points="217.54,339.88 218.05,340.26 218.56,340.65 219.08,341.04 219.59,341.43 220.10,341.82 220.62,342.21 221.13,342.60 221.64,342.99 222.15,343.38 222.67,343.77 223.18,344.16 223.69,344.55 224.21,344.94 224.72,345.33 225.23,345.72 225.74,346.11 226.26,346.50 226.77,346.89 227.28,347.28 227.80,347.67 228.31,348.07 228.82,348.46 229.33,348.85 229.85,349.24 230.36,349.64 230.87,350.03 231.39,350.42 231.90,350.81 232.41,351.21 232.92,351.60 233.44,352.00 233.95,352.39 234.46,352.78 234.98,353.18 235.49,353.57 236.00,353.97 236.51,354.36 237.03,354.76 237.54,355.15 238.05,355.55 238.57,355.95 239.08,356.34 239.59,356.74 240.10,357.13 240.62,357.53 241.13,357.93 241.64,358.33 242.16,358.72 242.67,359.12 243.18,359.52 243.69,359.92 244.21,360.31 244.72,360.71 245.23,361.11 245.75,361.51 246.26,361.91 246.77,362.31 247.28,362.71 247.80,363.11 248.31,363.51 248.82,363.91 249.34,364.31 249.85,364.71 250.36,365.11 250.87,365.51 251.39,365.91 251.90,366.31 252.41,366.71 252.93,367.11 253.44,367.51 253.95,367.92 254.46,368.32 254.98,368.72 255.49,369.12 256.00,369.53 256.52,369.93 257.03,370.33 257.54,370.74 258.05,371.14 258.57,371.54 259.08,371.95 259.59,372.35 260.11,372.76 260.62,373.16 261.13,373.57 261.65,373.97 262.16,374.38 262.67,374.78 263.18,375.19 263.70,375.59 264.21,376.00 264.72,376.40 265.24,376.81 265.75,377.22 266.26,377.62 266.77,378.03 267.29,378.44 267.80,378.85 268.31,379.25 268.83,379.66 269.34,380.07 269.85,380.48 270.36,380.89 270.88,381.30 271.39,381.71 271.90,382.11 272.42,382.52 272.93,382.93 273.44,383.34 273.95,383.75 274.47,384.16 274.98,384.57 275.49,384.98 276.01,385.39 276.52,385.81 277.03,386.22 277.54,386.63 278.06,387.04 278.57,387.45 279.08,387.86 279.60,388.28 280.11,388.69 280.62,389.10 281.13,389.51 281.65,389.93 282.16,390.34 282.67,390.75 283.19,391.17 283.70,391.58 284.21,392.00 284.72,392.41 285.24,392.82" fill="none" stroke="#000" stroke-width="1.05"/>
<polyline points="80.09,199.59 80.77,200.01 81.45,200.43 82.13,200.85 82.81,201.27 83.49,201.69 84.18,202.12 84.86,202.54" fill="none" stroke="#000" stroke-width="1.05"/><polyline points="101.21,212.77 101.89,213.21 102.58,213.64 103.26,214.07 103.94,214.50 104.62,214.93 105.30,215.36 105.98,215.79 106.66,216.22 107.35,216.66 108.03,217.09 108.71,217.52 109.39,217.95 110.07,218.39 110.75,218.82 111.44,219.26 112.12,219.69 112.80,220.13 113.48,220.56 114.16,221.00 114.84,221.43 115.52,221.87 116.21,222.30 116.89,222.74 117.57,223.18 118.25,223.61 118.93,224.05 119.61,224.49 120.29,224.93 120.98,225.36 121.66,225.80 122.34,226.24 123.02,226.68 123.70,227.12 124.38,227.56 125.06,228.00 125.75,228.44 126.43,228.88 127.11,229.32 127.79,229.76 128.47,230.20 129.15,230.65 129.84,231.09 130.52,231.53 131.20,231.97 131.88,232.42 132.56,232.86 133.24,233.30 133.92,233.75 134.61,234.19 135.29,234.64 135.97,235.08 136.65,235.53 137.33,235.97 138.01,236.42 138.69,236.86 139.38,237.31 140.06,237.75 140.74,238.20 141.42,238.65 142.10,239.10 142.78,239.54 143.46,239.99 144.15,240.44 144.83,240.89 145.51,241.34 146.19,241.79 146.87,242.24 147.55,242.69 148.23,243.14 148.92,243.59 149.60,244.04 150.28,244.49 150.96,244.94 151.64,245.39 152.32,245.84 153.01,246.30 153.69,246.75 154.37,247.20 155.05,247.66 155.73,248.11 156.41,248.56 157.09,249.02 157.78,249.47 158.46,249.93 159.14,250.38 159.82,250.84 160.50,251.29 161.18,251.75 161.86,252.20 162.55,252.66 163.23,253.12 163.91,253.57 164.59,254.03 165.27,254.49 165.95,254.95 166.63,255.41 167.32,255.87 168.00,256.32 168.68,256.78 169.36,257.24 170.04,257.70 170.72,258.16 171.41,258.62 172.09,259.08 172.77,259.55 173.45,260.01 174.13,260.47 174.81,260.93 175.49,261.39 176.18,261.86 176.86,262.32 177.54,262.78 178.22,263.25 178.90,263.71 179.58,264.18 180.26,264.64 180.95,265.10 181.63,265.57 182.31,266.04 182.99,266.50 183.67,266.97 184.35,267.43 185.03,267.90 185.72,268.37 186.40,268.84 187.08,269.30 187.76,269.77 188.44,270.24 189.12,270.71 189.80,271.18 190.49,271.65 191.17,272.12 191.85,272.59 192.53,273.06 193.21,273.53 193.89,274.00 194.58,274.47 195.26,274.94 195.94,275.41" fill="none" stroke="#000" stroke-width="1.05"/><polyline points="212.29,286.83 212.98,287.31 213.66,287.79 214.34,288.27 215.02,288.75 215.70,289.24 216.38,289.72 217.06,290.20 217.75,290.68 218.43,291.16 219.11,291.65 219.79,292.13 220.47,292.61 221.15,293.10 221.83,293.58 222.52,294.07 223.20,294.55 223.88,295.03 224.56,295.52 225.24,296.01 225.92,296.49 226.60,296.98 227.29,297.47 227.97,297.95 228.65,298.44 229.33,298.93 230.01,299.42 230.69,299.90 231.37,300.39 232.06,300.88 232.74,301.37 233.42,301.86 234.10,302.35 234.78,302.84 235.46,303.33 236.15,303.82 236.83,304.31 237.51,304.80 238.19,305.30 238.87,305.79 239.55,306.28 240.23,306.77 240.92,307.27 241.60,307.76 242.28,308.26 242.96,308.75 243.64,309.24 244.32,309.74 245.00,310.23 245.69,310.73 246.37,311.23 247.05,311.72 247.73,312.22 248.41,312.72 249.09,313.21 249.77,313.71 250.46,314.21 251.14,314.71 251.82,315.21 252.50,315.70 253.18,316.20 253.86,316.70 254.55,317.20 255.23,317.70 255.91,318.20 256.59,318.71 257.27,319.21 257.95,319.71 258.63,320.21 259.32,320.71 260.00,321.22 260.68,321.72 261.36,322.22 262.04,322.73 262.72,323.23 263.40,323.73 264.09,324.24 264.77,324.74 265.45,325.25 266.13,325.75 266.81,326.26 267.49,326.77 268.17,327.27 268.86,327.78 269.54,328.29 270.22,328.80 270.90,329.30 271.58,329.81 272.26,330.32 272.95,330.83 273.63,331.34 274.31,331.85 274.99,332.36 275.67,332.87 276.35,333.38 277.03,333.89 277.72,334.40 278.40,334.92 279.08,335.43 279.76,335.94 280.44,336.45 281.12,336.97 281.80,337.48 282.49,337.99 283.17,338.51 283.85,339.02 284.53,339.54 285.21,340.05 285.89,340.57 286.57,341.09 287.26,341.60 287.94,342.12 288.62,342.64 289.30,343.15 289.98,343.67 290.66,344.19 291.34,344.71 292.03,345.23 292.71,345.74 293.39,346.26 294.07,346.78 294.75,347.30 295.43,347.82 296.12,348.35 296.80,348.87 297.48,349.39 298.16,349.91 298.84,350.43 299.52,350.96 300.20,351.48 300.89,352.00 301.57,352.53 302.25,353.05 302.93,353.57 303.61,354.10 304.29,354.62 304.97,355.15" fill="none" stroke="#000" stroke-width="1.05"/><polyline points="320.65,367.33 321.33,367.87 322.01,368.40 322.69,368.94 323.37,369.47 324.06,370.01 324.74,370.54 325.42,371.08 326.10,371.62 326.78,372.15 327.46,372.69 328.14,373.23 328.83,373.77 329.51,374.30 330.19,374.84 330.87,375.38 331.55,375.92 332.23,376.46 332.91,377.00 333.60,377.54 334.28,378.08 334.96,378.62 335.64,379.17 336.32,379.71 337.00,380.25 337.69,380.79 338.37,381.34 339.05,381.88 339.73,382.42 340.41,382.97 341.09,383.51 341.77,384.06 342.46,384.60 343.14,385.15 343.82,385.69 344.50,386.24 345.18,386.79 345.86,387.33 346.54,387.88 347.23,388.43 347.91,388.98 348.59,389.53 349.27,390.07 349.95,390.62 350.63,391.17 351.31,391.72 352.00,392.27 352.68,392.82" fill="none" stroke="#000" stroke-width="1.05"/>
<defs><clipPath id="ax"><rect x="80.10" y="26.90" width="393.50" height="365.90"/></clipPath></defs>
<g clip-path="url(#ax)" fill="#0000ff" font-size="17" text-anchor="middle">
<text transform="translate(92.10,62.00) rotate(-38.5)" dy="0.36em">90</text>
<text transform="translate(105.00,99.90) rotate(-27.0)" dy="0.36em">80</text>
<text transform="translate(102.00,150.50) rotate(-14.5)" dy="0.36em">70</text>
<text transform="translate(217.30,88.00) rotate(-30.0)" dy="0.36em">70</text>
<text transform="translate(91.50,210.40) rotate(25.5)" dy="0.36em">60</text>
<text transform="translate(202.50,282.80) rotate(30.5)" dy="0.36em">60</text>
<text transform="translate(311.10,363.90) rotate(31.0)" dy="0.36em">60</text>
<text transform="translate(99.60,260.00) rotate(30.0)" dy="0.36em">50</text>
<text transform="translate(208.00,336.10) rotate(30.5)" dy="0.36em">50</text>
<text transform="translate(87.70,294.30) rotate(29.5)" dy="0.36em">40</text>
<text transform="translate(195.60,375.70) rotate(31.5)" dy="0.36em">40</text>
<text transform="translate(96.10,344.50) rotate(31.5)" dy="0.36em">30</text>
<text transform="translate(87.50,380.50) rotate(32.0)" dy="0.36em">20</text>
</g>
<rect x="80.10" y="26.90" width="393.50" height="365.90" fill="none" stroke="#000" stroke-width="1"/>
<line x1="473.60" y1="26.90" x2="473.60" y2="393.60" stroke="#000" stroke-width="1.6"/>
<line x1="80.10" y1="392.80" x2="474.40" y2="392.80" stroke="#000" stroke-width="1.6"/>
<line x1="158.03" y1="26.90" x2="158.03" y2="31.40" stroke="#000"/>
<line x1="158.03" y1="392.80" x2="158.03" y2="388.30" stroke="#000"/>
<line x1="236.76" y1="26.90" x2="236.76" y2="31.40" stroke="#000"/>
<line x1="236.76" y1="392.80" x2="236.76" y2="388.30" stroke="#000"/>
<line x1="315.49" y1="26.90" x2="315.49" y2="31.40" stroke="#000"/>
<line x1="315.49" y1="392.80" x2="315.49" y2="388.30" stroke="#000"/>
<line x1="394.22" y1="26.90" x2="394.22" y2="31.40" stroke="#000"/>
<line x1="394.22" y1="392.80" x2="394.22" y2="388.30" stroke="#000"/>
<line x1="80.10" y1="371.30" x2="84.60" y2="371.30" stroke="#000"/>
<line x1="473.60" y1="371.30" x2="469.10" y2="371.30" stroke="#000"/>
<line x1="80.10" y1="285.20" x2="84.60" y2="285.20" stroke="#000"/>
<line x1="473.60" y1="285.20" x2="469.10" y2="285.20" stroke="#000"/>
<line x1="80.10" y1="199.10" x2="84.60" y2="199.10" stroke="#000"/>
<line x1="473.60" y1="199.10" x2="469.10" y2="199.10" stroke="#000"/>
<line x1="80.10" y1="113.00" x2="84.60" y2="113.00" stroke="#000"/>
<line x1="473.60" y1="113.00" x2="469.10" y2="113.00" stroke="#000"/>
<text class="tk" x="158.03" y="421.00" text-anchor="middle" font-size="27"><tspan class="hid">1</tspan>00</text>
<path class="tk" vector-effect="non-scaling-stroke" transform="translate(135.51,421.00) scale(0.01318,-0.01318)" d="M515 0V1237L197 1010V1180L530 1409H696V0Z"/>
<text class="tk" x="236.76" y="421.00" text-anchor="middle" font-size="27">200</text>
<text class="tk" x="315.49" y="421.00" text-anchor="middle" font-size="27">300</text>
<text class="tk" x="394.22" y="421.00" text-anchor="middle" font-size="27">400</text>
<text class="tk" x="472.95" y="421.00" text-anchor="middle" font-size="27">500</text>
<text class="tk" x="75.00" y="379.40" text-anchor="end" font-size="27">20</text>
<text class="tk" x="75.00" y="293.30" text-anchor="end" font-size="27">40</text>
<text class="tk" x="75.00" y="207.20" text-anchor="end" font-size="27">60</text>
<text class="tk" x="75.00" y="121.10" text-anchor="end" font-size="27">80</text>
<text class="tk" x="75.00" y="36.40" text-anchor="end" font-size="27"><tspan class="hid">1</tspan>00</text>
<path class="tk" vector-effect="non-scaling-stroke" transform="translate(29.95,36.40) scale(0.01318,-0.01318)" d="M515 0V1237L197 1010V1180L530 1409H696V0Z"/>
<text x="222.6" y="446.5" font-size="24" textLength="105" lengthAdjust="spacingAndGlyphs">time (min)</text>
<text transform="translate(16.5,331.5) rotate(-90)" font-size="24" textLength="239.5" lengthAdjust="spacingAndGlyphs">Initial temperature (oC)</text>
<defs><linearGradient id="cbg" x1="0" y1="0" x2="0" y2="1"><stop offset="0.0000" stop-color="#ffffff"/><stop offset="0.0156" stop-color="#ffffff"/><stop offset="0.0156" stop-color="#ffffef"/><stop offset="0.0312" stop-color="#ffffef"/><stop offset="0.0312" stop-color="#ffffdf"/><stop offset="0.0469" stop-color="#ffffdf"/><stop offset="0.0469" stop-color="#ffffcf"/><stop offset="0.0625" stop-color="#ffffcf"/><stop offset="0.0625" stop-color="#ffffbf"/><stop offset="0.0781" stop-color="#ffffbf"/><stop offset="0.0781" stop-color="#ffffaf"/><stop offset="0.0938" stop-color="#ffffaf"/><stop offset="0.0938" stop-color="#ffff9f"/><stop offset="0.1094" stop-color="#ffff9f"/><stop offset="0.1094" stop-color="#ffff8f"/><stop offset="0.1250" stop-color="#ffff8f"/><stop offset="0.1250" stop-color="#ffff80"/><stop offset="0.1406" stop-color="#ffff80"/><stop offset="0.1406" stop-color="#ffff70"/><stop offset="0.1562" stop-color="#ffff70"/><stop offset="0.1562" stop-color="#ffff60"/><stop offset="0.1719" stop-color="#ffff60"/><stop offset="0.1719" stop-color="#ffff50"/><stop offset="0.1875" stop-color="#ffff50"/><stop offset="0.1875" stop-color="#ffff40"/><stop offset="0.2031" stop-color="#ffff40"/><stop offset="0.2031" stop-color="#ffff30"/><stop offset="0.2188" stop-color="#ffff30"/><stop offset="0.2188" stop-color="#ffff20"/><stop offset="0.2344" stop-color="#ffff20"/><stop offset="0.2344" stop-color="#ffff10"/><stop offset="0.2500" stop-color="#ffff10"/><stop offset="0.2500" stop-color="#ffff00"/><stop offset="0.2656" stop-color="#ffff00"/><stop offset="0.2656" stop-color="#fff400"/><stop offset="0.2812" stop-color="#fff400"/><stop offset="0.2812" stop-color="#ffea00"/><stop offset="0.2969" stop-color="#ffea00"/><stop offset="0.2969" stop-color="#ffdf00"/><stop offset="0.3125" stop-color="#ffdf00"/><stop offset="0.3125" stop-color="#ffd400"/><stop offset="0.3281" stop-color="#ffd400"/><stop offset="0.3281" stop-color="#ffca00"/><stop offset="0.3438" stop-color="#ffca00"/><stop offset="0.3438" stop-color="#ffbf00"/><stop offset="0.3594" stop-color="#ffbf00"/><stop offset="0.3594" stop-color="#ffb500"/><stop offset="0.3750" stop-color="#ffb500"/><stop offset="0.3750" stop-color="#ffaa00"/><stop offset="0.3906" stop-color="#ffaa00"/><stop offset="0.3906" stop-color="#ff9f00"/><stop offset="0.4062" stop-color="#ff9f00"/><stop offset="0.4062" stop-color="#ff9500"/><stop offset="0.4219" stop-color="#ff9500"/><stop offset="0.4219" stop-color="#ff8a00"/><stop offset="0.4375" stop-color="#ff8a00"/><stop offset="0.4375" stop-color="#ff8000"/><stop offset="0.4531" stop-color="#ff8000"/><stop offset="0.4531" stop-color="#ff7500"/><stop offset="0.4688" stop-color="#ff7500"/><stop offset="0.4688" stop-color="#ff6a00"/><stop offset="0.4844" stop-color="#ff6a00"/><stop offset="0.4844" stop-color="#ff6000"/><stop offset="0.5000" stop-color="#ff6000"/><stop offset="0.5000" stop-color="#ff5500"/><stop offset="0.5156" stop-color="#ff5500"/><stop offset="0.5156" stop-color="#ff4a00"/><stop offset="0.5312" stop-color="#ff4a00"/><stop offset="0.5312" stop-color="#ff4000"/><stop offset="0.5469" stop-color="#ff4000"/><stop offset="0.5469" stop-color="#ff3500"/><stop offset="0.5625" stop-color="#ff3500"/><stop offset="0.5625" stop-color="#ff2a00"/><stop offset="0.5781" stop-color="#ff2a00"/><stop offset="0.5781" stop-color="#ff2000"/><stop offset="0.5938" stop-color="#ff2000"/><stop offset="0.5938" stop-color="#ff1500"/><stop offset="0.6094" stop-color="#ff1500"/><stop offset="0.6094" stop-color="#ff0b00"/><stop offset="0.6250" stop-color="#ff0b00"/><stop offset="0.6250" stop-color="#ff0000"/><stop offset="0.6406" stop-color="#ff0000"/><stop offset="0.6406" stop-color="#f40000"/><stop offset="0.6562" stop-color="#f40000"/><stop offset="0.6562" stop-color="#ea0000"/><stop offset="0.6719" stop-color="#ea0000"/><stop offset="0.6719" stop-color="#df0000"/><stop offset="0.6875" stop-color="#df0000"/><stop offset="0.6875" stop-color="#d40000"/><stop offset="0.7031" stop-color="#d40000"/><stop offset="0.7031" stop-color="#ca0000"/><stop offset="0.7188" stop-color="#ca0000"/><stop offset="0.7188" stop-color="#bf0000"/><stop offset="0.7344" stop-color="#bf0000"/><stop offset="0.7344" stop-color="#b50000"/><stop offset="0.7500" stop-color="#b50000"/><stop offset="0.7500" stop-color="#aa0000"/><stop offset="0.7656" stop-color="#aa0000"/><stop offset="0.7656" stop-color="#9f0000"/><stop offset="0.7812" stop-color="#9f0000"/><stop offset="0.7812" stop-color="#950000"/><stop offset="0.7969" stop-color="#950000"/><stop offset="0.7969" stop-color="#8a0000"/><stop offset="0.8125" stop-color="#8a0000"/><stop offset="0.8125" stop-color="#800000"/><stop offset="0.8281" stop-color="#800000"/><stop offset="0.8281" stop-color="#750000"/><stop offset="0.8438" stop-color="#750000"/><stop offset="0.8438" stop-color="#6a0000"/><stop offset="0.8594" stop-color="#6a0000"/><stop offset="0.8594" stop-color="#600000"/><stop offset="0.8750" stop-color="#600000"/><stop offset="0.8750" stop-color="#550000"/><stop offset="0.8906" stop-color="#550000"/><stop offset="0.8906" stop-color="#4a0000"/><stop offset="0.9062" stop-color="#4a0000"/><stop offset="0.9062" stop-color="#400000"/><stop offset="0.9219" stop-color="#400000"/><stop offset="0.9219" stop-color="#350000"/><stop offset="0.9375" stop-color="#350000"/><stop offset="0.9375" stop-color="#2a0000"/><stop offset="0.9531" stop-color="#2a0000"/><stop offset="0.9531" stop-color="#200000"/><stop offset="0.9688" stop-color="#200000"/><stop offset="0.9688" stop-color="#150000"/><stop offset="0.9844" stop-color="#150000"/><stop offset="0.9844" stop-color="#0b0000"/><stop offset="1.0000" stop-color="#0b0000"/></linearGradient></defs>
<rect x="497.10" y="27.90" width="29.00" height="365.90" fill="url(#cbg)"/>
<rect x="497.10" y="27.90" width="29.00" height="365.90" fill="none" stroke="#000" stroke-width="1"/>
<line x1="497.10" y1="369.41" x2="500.60" y2="369.41" stroke="#000"/>
<line x1="526.10" y1="369.41" x2="522.60" y2="369.41" stroke="#000"/>
<text class="tk" x="529.00" y="377.41" font-size="27">20</text>
<line x1="497.10" y1="320.62" x2="500.60" y2="320.62" stroke="#000"/>
<line x1="526.10" y1="320.62" x2="522.60" y2="320.62" stroke="#000"/>
<text class="tk" x="529.00" y="328.62" font-size="27">30</text>
<line x1="497.10" y1="271.83" x2="500.60" y2="271.83" stroke="#000"/>
<line x1="526.10" y1="271.83" x2="522.60" y2="271.83" stroke="#000"/>
<text class="tk" x="529.00" y="279.83" font-size="27">40</text>
<line x1="497.10" y1="223.05" x2="500.60" y2="223.05" stroke="#000"/>
<line x1="526.10" y1="223.05" x2="522.60" y2="223.05" stroke="#000"/>
<text class="tk" x="529.00" y="231.05" font-size="27">50</text>
<line x1="497.10" y1="174.26" x2="500.60" y2="174.26" stroke="#000"/>
<line x1="526.10" y1="174.26" x2="522.60" y2="174.26" stroke="#000"/>
<text class="tk" x="529.00" y="182.26" font-size="27">60</text>
<line x1="497.10" y1="125.47" x2="500.60" y2="125.47" stroke="#000"/>
<line x1="526.10" y1="125.47" x2="522.60" y2="125.47" stroke="#000"/>
<text class="tk" x="529.00" y="133.47" font-size="27">70</text>
<line x1="497.10" y1="76.69" x2="500.60" y2="76.69" stroke="#000"/>
<line x1="526.10" y1="76.69" x2="522.60" y2="76.69" stroke="#000"/>
<text class="tk" x="529.00" y="84.69" font-size="27">80</text>
<line x1="497.10" y1="27.90" x2="500.60" y2="27.90" stroke="#000"/>
<line x1="526.10" y1="27.90" x2="522.60" y2="27.90" stroke="#000"/>
<text class="tk" x="529.00" y="35.90" font-size="27">90</text>
<text x="468.4" y="10.8" font-size="15" textLength="81.3" lengthAdjust="spacingAndGlyphs" fill="#222">Temperature</text>
</svg>
</body></html>
